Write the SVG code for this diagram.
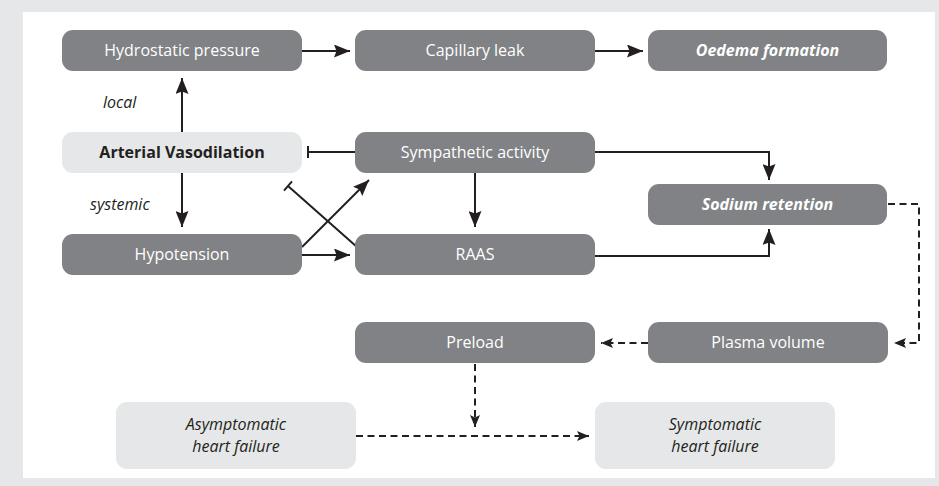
<svg xmlns="http://www.w3.org/2000/svg" width="939" height="486" viewBox="0 0 939 486">
<defs>
<style>
.dk{fill:#808285}
.lt{fill:#e6e7e8}
.t{font-family:"Open Sans","Liberation Sans",sans-serif;font-size:16px;text-anchor:middle}
.w{fill:#ffffff}
.b{fill:#231f20}
.it{font-style:italic}
.bd{font-weight:bold}
.c{fill:none;stroke:#231f20;stroke-width:2}
.d{stroke-dasharray:7 4.5}
.lbl{font-family:"Open Sans","Liberation Sans",sans-serif;font-size:16px;font-style:italic;fill:#231f20}
</style>
<marker id="ah" markerUnits="userSpaceOnUse" markerWidth="17" markerHeight="13" refX="16" refY="6.5" orient="auto">
<path d="M0,0 L16,6.5 L0,13 L2.5,6.5 z" fill="#231f20"/>
</marker>
<marker id="ahd" markerUnits="userSpaceOnUse" markerWidth="13" markerHeight="10" refX="12" refY="5" orient="auto">
<path d="M0,0 L12,5 L0,10 L2.5,5 z" fill="#231f20"/>
</marker>
</defs>
<rect x="0" y="0" width="939" height="486" fill="#e6e7e8"/>
<rect x="23" y="12" width="912" height="466" fill="#ffffff"/>

<g id="connectors">
<path class="c" d="M302,51 H350" marker-end="url(#ah)"/>
<path class="c" d="M595,51 H643" marker-end="url(#ah)"/>
<path class="c" d="M182,132 V78" marker-end="url(#ah)"/>
<path class="c" d="M182,173 V227" marker-end="url(#ah)"/>
<path class="c" d="M355,152 H308 M308,146 V158"/>
<path class="c" d="M357,247 L288,186 M284,190.6 L292,181.4"/>
<path class="c" d="M302,247 L369,180" marker-end="url(#ah)"/>
<path class="c" d="M302,255 H350" marker-end="url(#ah)"/>
<path class="c" d="M475,173 V227" marker-end="url(#ah)"/>
<path class="c" d="M595,152 H769 V180" marker-end="url(#ah)"/>
<path class="c" d="M595,256 H769 V229" marker-end="url(#ah)"/>
<path class="c d" d="M888,204 H919 V343 H894" marker-end="url(#ahd)"/>
<path class="c d" d="M648,343 H601" marker-end="url(#ahd)"/>
<path class="c d" d="M475,364 V427" marker-end="url(#ahd)"/>
<path class="c d" d="M356,436 H589" marker-end="url(#ahd)"/>
<text class="lbl" x="103" y="108">local</text>
<text class="lbl" x="90" y="210">systemic</text>
</g>

<g id="hydrostatic">
<rect class="dk" x="62" y="30" width="240" height="41" rx="11"/>
<text class="t w" x="182" y="56">Hydrostatic pressure</text>
</g>
<g id="capillary">
<rect class="dk" x="355" y="30" width="240" height="41" rx="11"/>
<text class="t w" x="475" y="56">Capillary leak</text>
</g>
<g id="oedema">
<rect class="dk" x="648" y="30" width="239" height="41" rx="11"/>
<text class="t w it bd" x="767.5" y="56">Oedema formation</text>
</g>
<g id="vasodilation">
<rect class="lt" x="62" y="132" width="240" height="41" rx="11"/>
<text class="t b bd" x="182" y="158">Arterial Vasodilation</text>
</g>
<g id="sympathetic">
<rect class="dk" x="355" y="132" width="240" height="41" rx="11"/>
<text class="t w" x="475" y="158">Sympathetic activity</text>
</g>
<g id="sodium">
<rect class="dk" x="648" y="184" width="239" height="41" rx="11"/>
<text class="t w it bd" x="767.5" y="210">Sodium retention</text>
</g>
<g id="hypotension">
<rect class="dk" x="62" y="234" width="240" height="41" rx="11"/>
<text class="t w" x="182" y="260">Hypotension</text>
</g>
<g id="raas">
<rect class="dk" x="355" y="234" width="240" height="41" rx="11"/>
<text class="t w" x="475" y="260">RAAS</text>
</g>
<g id="preload">
<rect class="dk" x="355" y="322" width="240" height="41" rx="11"/>
<text class="t w" x="475" y="348">Preload</text>
</g>
<g id="plasma">
<rect class="dk" x="648" y="322" width="240" height="41" rx="11"/>
<text class="t w" x="768" y="348">Plasma volume</text>
</g>
<g id="asymptomatic">
<rect class="lt" x="116" y="402" width="240" height="67" rx="11"/>
<text class="t b it" x="236" y="430">Asymptomatic</text>
<text class="t b it" x="236" y="452">heart failure</text>
</g>
<g id="symptomatic">
<rect class="lt" x="595" y="402" width="240" height="67" rx="11"/>
<text class="t b it" x="715" y="430">Symptomatic</text>
<text class="t b it" x="715" y="452">heart failure</text>
</g>
</svg>
